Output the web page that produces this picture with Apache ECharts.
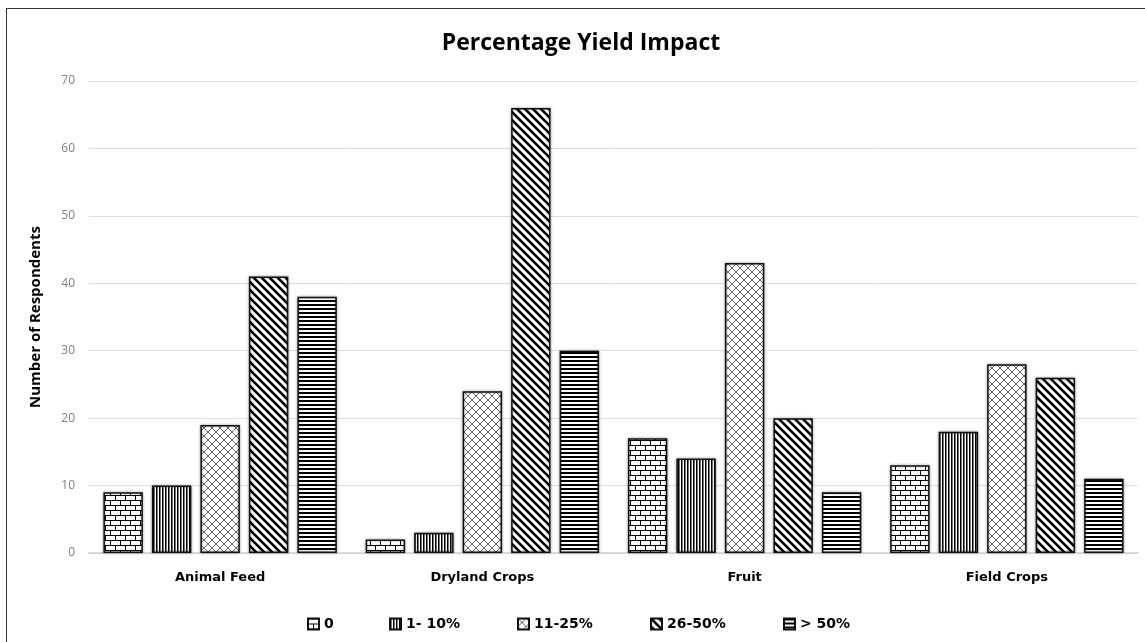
<!DOCTYPE html>
<html>
<head>
<meta charset="utf-8">
<script src="https://cdn.jsdelivr.net/npm/echarts@6/dist/echarts.min.js"></script>
<style>
  html, body { margin: 0; padding: 0; background: #fff; }
  #frame { position: absolute; left: 6px; top: 8px; width: 1150px; height: 650px; border: 1.5px solid #333; box-sizing: border-box; }
  #chart { position: absolute; left: 0; top: 0; width: 1145px; height: 642px; }
</style>
</head>
<body>
<div id="frame"></div>
<div id="chart"></div>
<script>
const categories = ['Animal Feed', 'Dryland Crops', 'Fruit', 'Field Crops'];
const seriesNames = ['0', '1- 10%', '11-25%', '26-50%', '> 50%'];
const values0 = [9, 2, 17, 13];
const values1to10 = [10, 3, 14, 18];
const values11to25 = [19, 24, 43, 28];
const values26to50 = [41, 66, 20, 26];
const valuesOver50 = [38, 30, 9, 11];
const yTicks = [0, 10, 20, 30, 40, 50, 60, 70];

function tile(w, h, draw) {
  const c = document.createElement('canvas');
  c.width = w; c.height = h;
  const ctx = c.getContext('2d');
  ctx.fillStyle = '#fff';
  ctx.fillRect(0, 0, w, h);
  draw(ctx, w, h);
  return { image: c, repeat: 'repeat' };
}
const patBrick = tile(10, 10, (ctx) => {
  ctx.fillStyle = '#000';
  ctx.fillRect(0, 0, 10, 1);
  ctx.fillRect(0, 5, 10, 1);
  ctx.fillRect(0, 0, 1, 5);
  ctx.fillRect(5, 5, 1, 5);
});
const patVert = tile(3, 4, (ctx) => {
  ctx.fillStyle = '#000';
  ctx.fillRect(0, 0, 1, 4);
  ctx.fillStyle = '#777';
  ctx.fillRect(1, 0, 1, 4);
});
const patCross = tile(8, 8, (ctx) => {
  ctx.strokeStyle = '#666';
  ctx.lineWidth = 1;
  ctx.beginPath();
  ctx.moveTo(0, 0); ctx.lineTo(8, 8);
  ctx.moveTo(8, 0); ctx.lineTo(0, 8);
  ctx.stroke();
});
const patDiag = tile(8, 8, (ctx) => {
  ctx.strokeStyle = '#000';
  ctx.lineWidth = 2.6;
  ctx.beginPath();
  for (let k = -1; k <= 1; k++) {
    ctx.moveTo(-2 + k * 8, -2); ctx.lineTo(10 + k * 8, 10);
  }
  ctx.stroke();
});
const patHoriz = tile(4, 4, (ctx) => {
  ctx.fillStyle = '#000';
  ctx.fillRect(0, 0, 4, 2);
});
const patterns = [patBrick, patVert, patCross, patDiag, patHoriz];
const seriesData = [values0, values1to10, values11to25, values26to50, valuesOver50];
const legendLefts = [302, 384, 512, 645, 778];

const chart = echarts.init(document.getElementById('chart'), null, { renderer: 'canvas' });
const series = seriesNames.map((name, i) => ({
  name: name,
  type: 'bar',
  data: seriesData[i],
  barGap: '23%',
  barCategoryGap: '11%',
  itemStyle: {
    color: patterns[i],
    borderColor: '#111',
    borderWidth: 1.5,
    shadowColor: 'rgba(0,0,0,0.35)',
    shadowBlur: 3
  }
}));

const legends = seriesNames.map((name, i) => ({
  data: [{ name: name, icon: 'rect' }],
  left: legendLefts[i],
  top: 612,
  itemWidth: 11,
  itemHeight: 11,
  textStyle: { fontFamily: 'DejaVu Sans', fontWeight: 'bold', fontSize: 14, color: '#000' }
}));

chart.setOption({
  animation: false,
  title: {
    text: 'Percentage Yield Impact',
    left: 576,
    textAlign: 'center',
    top: 27,
    textStyle: { fontFamily: 'Open Sans', fontWeight: 'bold', fontSize: 23, color: '#000' }
  },
  grid: { left: 89, right: 7, top: 81, bottom: 89 },
  legend: legends,
  xAxis: {
    type: 'category',
    data: categories,
    axisLine: { lineStyle: { color: '#d0d0d0', width: 1.5 } },
    axisTick: { show: false },
    axisLabel: { margin: 18, fontFamily: 'DejaVu Sans', fontWeight: 'bold', fontSize: 13, color: '#000' }
  },
  yAxis: {
    type: 'value',
    min: yTicks[0],
    max: yTicks[yTicks.length - 1],
    interval: 10,
    name: 'Number of Respondents',
    nameLocation: 'middle',
    nameGap: 46,
    nameTextStyle: { fontFamily: 'Open Sans', fontWeight: 'bold', fontSize: 15, color: '#000' },
    axisLine: { show: false },
    axisTick: { show: false },
    axisLabel: { margin: 14, fontFamily: 'Open Sans', fontSize: 12, color: '#808080' },
    splitLine: { lineStyle: { color: '#dedede', width: 1 } }
  },
  series: series
});
</script>
</body>
</html>
